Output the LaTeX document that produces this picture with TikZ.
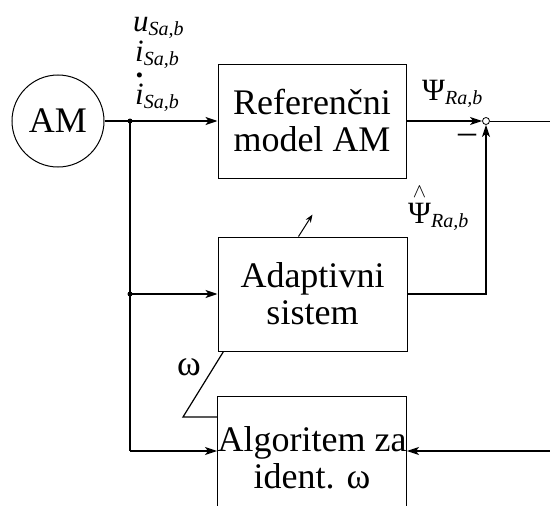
\documentclass[tikz,border=0pt]{standalone}
\usepackage{fix-cm}
\usepackage{amsmath}
\usepackage{fontspec}
\setmainfont{Liberation Serif}
\DeclareMathSizes{31}{31}{20}{16}
\usetikzlibrary{arrows.meta, positioning}

\begin{document}
\begin{tikzpicture}[x=1pt, y=-1pt,
  box/.style={draw, line width=1pt, minimum width=188pt, minimum height=114pt, align=center, inner sep=0pt},
  arr/.style={-{Stealth[length=12pt, width=8pt, inset=3pt]}, line width=1.4pt},
  lbl/.style={inner sep=0pt, anchor=base west, font=\fontsize{31}{31}\selectfont},
  every node/.append style={font=\fontsize{36}{37}\selectfont}
]
\useasboundingbox (0,0) rectangle (550,506);
\clip (0,0) rectangle (550,506);
% blocks
\node[draw, circle, line width=1pt, minimum size=92pt, inner sep=0pt] (am) at (58,121) {AM};
\node[box] (ref) at (312,121) {Referenčni\\model AM};
\node[box, minimum width=189pt] (adapt) at (312.5,294) {Adaptivni\\sistem};
\node[box, minimum height=124pt] (alg) at (312,458) {Algoritem za\\ident. ω};
\node[draw, circle, line width=0.8pt, minimum size=7pt, inner sep=0pt] (sum) at (486,121) {};
% branch points
\coordinate (j1) at (130,121);
\coordinate (j2) at (130,294);
\coordinate (j3) at (130,451);
\coordinate (out) at (550,121);
\coordinate (in3) at (550,451);
\coordinate (w1) at (183,417);
% labels
\node[lbl] (lu) at (133,31) {\textit{u}$_{\textit{Sa,b}}$};
\node[lbl] (li) at (135,61) {\textit{i}$_{\textit{Sa,b}}$};
\node[lbl] (lid) at (135,104) {$\overset{\raisebox{1pt}{\textbf{.}}}{\text{\textit{i}}}$$_{\textit{Sa,b}}$};
\node[lbl] (psi) at (422,100) {Ψ$_{\textit{Ra,b}}$};
\node[lbl] (psih) at (408,223) {$\overset{\wedge}{\text{Ψ}}$$_{\textit{Ra,b}}$};
\node (minus) at (467,139) {\textendash};
\node (om) at (189,367) {ω};
% connections
\draw[line width=1.4pt] (am) -- (j1);
\draw[arr] (j1) -- (ref);
\draw[arr] (ref) -- (sum);
\draw[line width=1pt] (sum) -- (out);
\draw[line width=1.4pt] (j1) -- (j3);
\draw[arr] (j2) -- (j2 -| adapt.west);
\draw[arr] (j3) -- (j3 -| alg.west);
\draw[arr] (adapt.east) -| (sum.south);
\draw[arr] (in3) -- (in3 -| alg.east);
\draw[-{Stealth[length=8pt, width=6pt]}, line width=1pt] ([xshift=-14pt]adapt.north) -- ++(14,-22);
\draw[line width=1.2pt] ([xshift=6pt]adapt.south west) -- (w1) -- (w1 -| alg.west);
\fill (j1) circle (2.5pt);
\fill (j2) circle (2.5pt);
\end{tikzpicture}
\end{document}
